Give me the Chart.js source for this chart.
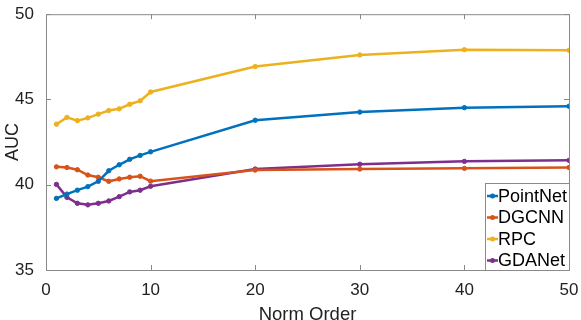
<!DOCTYPE html>
<html>
<head>
<meta charset="utf-8">
<script src="https://cdn.jsdelivr.net/npm/chart.js@4"></script>
<style>
  html, body { margin: 0; padding: 0; background: #fff; }
  #wrap { width: 581px; height: 320px; }
</style>
</head>
<body>
<div id="wrap"><canvas id="aucChart"></canvas></div>
<script>
// data
const normOrder = [1, 2, 3, 4, 5, 6, 7, 8, 9, 10, 20, 30, 40, 50];
const pointNet = [39.2, 39.45, 39.68, 39.89, 40.2, 40.82, 41.17, 41.49, 41.72, 41.93, 43.78, 44.26, 44.52, 44.6];
const dgcnn = [41.05, 41.01, 40.88, 40.57, 40.44, 40.2, 40.34, 40.44, 40.5, 40.21, 40.86, 40.92, 40.96, 41.01];
const rpc = [43.55, 43.95, 43.76, 43.92, 44.14, 44.35, 44.45, 44.72, 44.92, 45.44, 46.93, 47.61, 47.92, 47.88];
const gdaNet = [40.02, 39.26, 38.91, 38.82, 38.91, 39.05, 39.3, 39.58, 39.68, 39.91, 40.92, 41.2, 41.37, 41.43];
const seriesNames = ['PointNet', 'DGCNN', 'RPC', 'GDANet'];
const xTicks = [0, 10, 20, 30, 40, 50];
const yTicks = [35, 40, 45, 50];

const colors = ['#0072BD', '#D95319', '#EDB120', '#7E2F8E'];
const font = "'Liberation Sans', Arial, sans-serif";

function toPoints(values) {
    return values.map((v, i) => ({ x: normOrder[i], y: v }));
}

// matlab style box with inward ticks
const boxPlugin = {
    id: 'box',
    afterDraw(chart) {
        const { ctx, chartArea: a, scales } = chart;
        ctx.save();
        ctx.strokeStyle = '#8a8a8a';
        ctx.lineWidth = 1;
        ctx.strokeRect(a.left + 0.5, a.top + 0.5, a.right - a.left, a.bottom - a.top);
        ctx.beginPath();
        xTicks.forEach(t => {
            const px = Math.round(scales.x.getPixelForValue(t)) + 0.5;
            ctx.moveTo(px, a.bottom); ctx.lineTo(px, a.bottom - 5);
            ctx.moveTo(px, a.top); ctx.lineTo(px, a.top + 5);
        });
        yTicks.forEach(t => {
            const py = Math.round(scales.y.getPixelForValue(t)) + 0.5;
            ctx.moveTo(a.left, py); ctx.lineTo(a.left + 5, py);
            ctx.moveTo(a.right, py); ctx.lineTo(a.right - 5, py);
        });
        ctx.stroke();
        ctx.restore();
    }
};

// legend box in the lower right corner
const legendPlugin = {
    id: 'boxLegend',
    afterDraw(chart) {
        const { ctx, chartArea: a } = chart;
        const w = 84, h = 87;
        const x0 = a.right - w, y0 = a.bottom - h;
        ctx.save();
        ctx.fillStyle = '#fff';
        ctx.fillRect(x0, y0, w, h);
        ctx.strokeStyle = '#8a8a8a';
        ctx.lineWidth = 1;
        ctx.strokeRect(x0 + 0.5, y0 + 0.5, w, h);
        ctx.font = '18px ' + font;
        ctx.textBaseline = 'middle';
        chart.data.datasets.forEach((ds, i) => {
            const y = y0 + 13 + i * 21.5;
            ctx.strokeStyle = ds.borderColor;
            ctx.lineWidth = 2.5;
            ctx.beginPath();
            ctx.moveTo(x0 + 2, y); ctx.lineTo(x0 + 13, y);
            ctx.stroke();
            ctx.fillStyle = ds.borderColor;
            ctx.beginPath();
            ctx.arc(x0 + 7.5, y, 2.5, 0, Math.PI * 2);
            ctx.fill();
            ctx.fillStyle = '#000';
            ctx.fillText(ds.label, x0 + 13, y + 1);
        });
        ctx.restore();
    }
};

const ctx = document.getElementById('aucChart').getContext('2d');
const aucChart = new Chart(ctx, {
    type: 'line',
    data: {
        datasets: [pointNet, dgcnn, rpc, gdaNet].map((vals, i) => ({
            label: seriesNames[i],
            data: toPoints(vals),
            borderColor: colors[i],
            backgroundColor: colors[i],
            borderWidth: 2.5,
            pointRadius: 2.2,
            pointBorderWidth: 1,
            pointHoverRadius: 2.2,
            tension: 0,
            fill: false
        }))
    },
    options: {
        responsive: true,
        maintainAspectRatio: false,
        animation: false,
        layout: { padding: { top: 8, right: 12, left: 0, bottom: 0 } },
        plugins: {
            legend: { display: false },
            tooltip: { enabled: false }
        },
        scales: {
            x: {
                type: 'linear',
                min: 0,
                max: 50,
                afterBuildTicks(scale) { scale.ticks = xTicks.map(v => ({ value: v })); },
                afterFit(scale) { scale.height = 50; },
                grid: { display: false },
                border: { display: false },
                ticks: { color: '#222', font: { family: font, size: 17 }, padding: 2, maxRotation: 0 },
                title: { display: true, text: 'Norm Order', color: '#222', font: { family: font, size: 18.5 }, padding: { top: 0, bottom: -6 } }
            },
            y: {
                min: 35,
                max: 50,
                afterBuildTicks(scale) { scale.ticks = yTicks.map(v => ({ value: v })); },
                afterFit(scale) { scale.width = 46; },
                grid: { display: false },
                border: { display: false },
                ticks: { color: '#222', font: { family: font, size: 17 }, padding: 4 },
                title: { display: true, text: 'AUC', color: '#222', font: { family: font, size: 18 }, padding: { top: 2, bottom: 0 } }
            }
        }
    },
    plugins: [boxPlugin, legendPlugin]
});
</script>
</body>
</html>
